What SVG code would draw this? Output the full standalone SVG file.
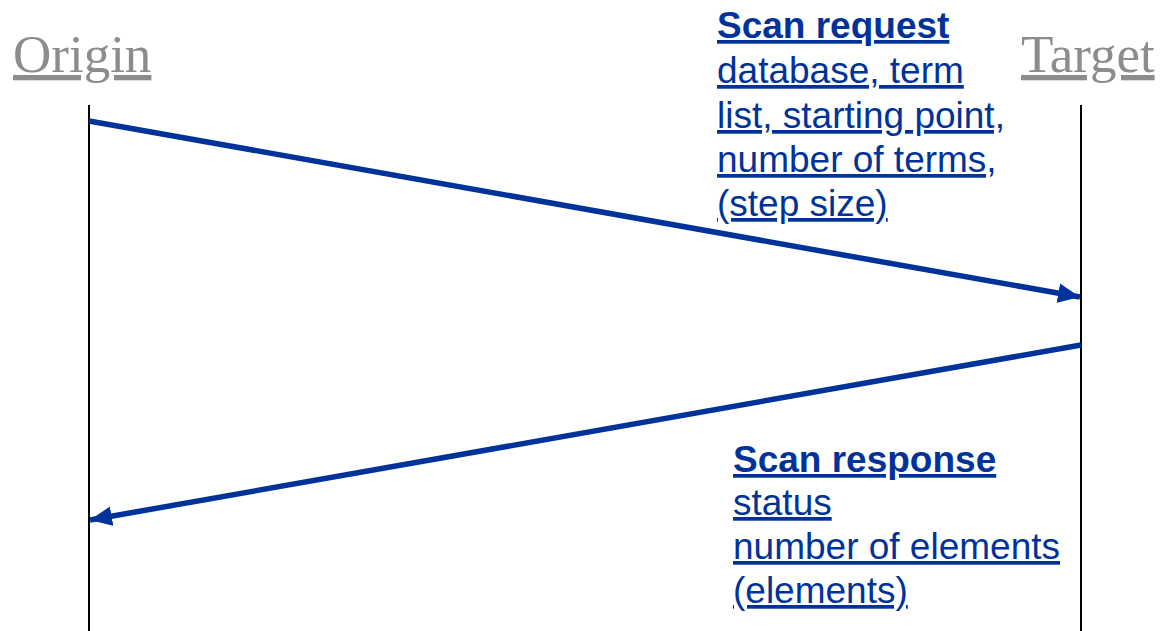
<svg xmlns="http://www.w3.org/2000/svg" width="1163" height="631" viewBox="0 0 1163 631">
<style>
.actor{font-family:"Liberation Serif",serif;font-size:53px;fill:#8c8c8c;text-decoration:underline}
.lbl{font-family:"Liberation Sans",Arial,sans-serif;font-size:37px;fill:#003399;text-decoration:underline}
.b{font-weight:bold}
.life{stroke:#000;stroke-width:2}
.msg{stroke:#003399;stroke-width:5.5;fill:none}
</style>
<defs>
<marker id="ah" viewBox="0 0 10 10" refX="10" refY="5" markerWidth="4" markerHeight="3.6" markerUnits="strokeWidth" orient="auto" preserveAspectRatio="none">
<path d="M0,0 L10,5 L0,10 z" fill="#003399"/>
</marker>
</defs>
<rect width="1163" height="631" fill="#fff"/>
<g id="origin">
<text class="actor" x="13" y="72">Origin</text>
<line class="life" x1="89" y1="105" x2="89" y2="631"/>
</g>
<g id="target">
<text class="actor" x="1021" y="72">Target</text>
<line class="life" x1="1081" y1="105" x2="1081" y2="631"/>
</g>
<g id="connectors">
<line class="msg" x1="89" y1="121" x2="1080" y2="297" marker-end="url(#ah)"/>
<line class="msg" x1="1081" y1="345" x2="90" y2="520" marker-end="url(#ah)"/>
</g>
<g id="request-label">
<text class="lbl b" x="717" y="38">Scan request</text>
<text class="lbl" x="717" y="83">database, term</text>
<text class="lbl" x="717" y="128">list, starting point,</text>
<text class="lbl" x="717" y="172">number of terms,</text>
<text class="lbl" x="717" y="216">(step size)</text>
</g>
<g id="response-label">
<text class="lbl b" x="733" y="472">Scan response</text>
<text class="lbl" x="733" y="515">status</text>
<text class="lbl" x="733" y="559">number of elements</text>
<text class="lbl" x="733" y="603">(elements)</text>
</g>
</svg>
